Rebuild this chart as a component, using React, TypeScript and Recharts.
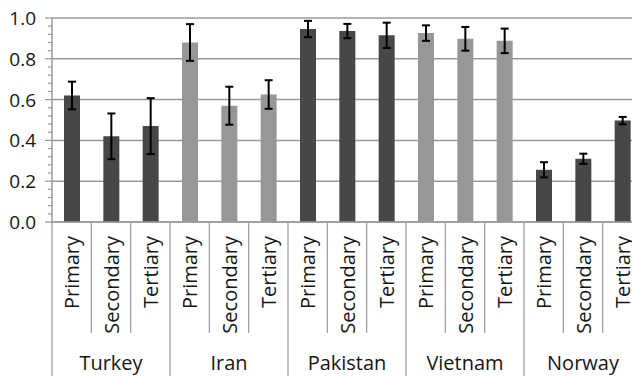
import React from 'react';
import { BarChart, Bar, XAxis, YAxis, CartesianGrid, ErrorBar, Cell } from 'recharts';

// Countries and education levels shown along the x axis
const countries = ['Turkey', 'Iran', 'Pakistan', 'Vietnam', 'Norway'];
const levels = ['Primary', 'Secondary', 'Tertiary'];

// Mean values per country (Primary, Secondary, Tertiary)
const turkeyValues = [0.62, 0.42, 0.47];
const iranValues = [0.88, 0.57, 0.625];
const pakistanValues = [0.946, 0.936, 0.915];
const vietnamValues = [0.926, 0.898, 0.888];
const norwayValues = [0.256, 0.31, 0.497];

// Error margins per country (Primary, Secondary, Tertiary)
const turkeyErrors = [0.068, 0.112, 0.137];
const iranErrors = [0.09, 0.093, 0.07];
const pakistanErrors = [0.04, 0.035, 0.062];
const vietnamErrors = [0.038, 0.058, 0.06];
const norwayErrors = [0.037, 0.025, 0.018];

// Y axis ticks: labelled majors and small minor marks
const majorTicks = [0, 0.2, 0.4, 0.6, 0.8, 1.0];
const allTicks = [
  0, 0.04, 0.08, 0.12, 0.16, 0.2, 0.24, 0.28, 0.32, 0.36, 0.4, 0.44, 0.48,
  0.52, 0.56, 0.6, 0.64, 0.68, 0.72, 0.76, 0.8, 0.84, 0.88, 0.92, 0.96, 1.0,
];

const DARK = '#474747';
const LIGHT = '#979797';
const countryColors = [DARK, LIGHT, DARK, LIGHT, DARK];

const valuesByCountry = [turkeyValues, iranValues, pakistanValues, vietnamValues, norwayValues];
const errorsByCountry = [turkeyErrors, iranErrors, pakistanErrors, vietnamErrors, norwayErrors];

const data = countries.flatMap((country, ci) =>
  levels.map((level, li) => ({
    key: `${country}-${level}`,
    country,
    level,
    value: valuesByCountry[ci][li],
    err: errorsByCountry[ci][li],
    color: countryColors[ci],
  }))
);

const CHART_W = 660;
const CHART_H = 376;
const MARGIN = { top: 18, right: 18, left: 0, bottom: 0 };
const Y_AXIS_W = 52;
const X_AXIS_H = 154;
const BAND = (CHART_W - MARGIN.left - MARGIN.right - Y_AXIS_W) / data.length;

const FONT = '"Open Sans", sans-serif';
const TEXT = '#151515';
const RULE = '#9a9a9a';

const isMajor = (v: number) => majorTicks.some((m) => Math.abs(m - v) < 1e-6);

const YTick = (props: any) => {
  const { x, y, payload } = props;
  const v = payload.value as number;
  const major = isMajor(v);
  return (
    <g>
      <line x1={x - (major ? 7 : 4)} x2={x} y1={y} y2={y} stroke={RULE} strokeWidth={1.2} />
      {major && (
        <text
          x={x - 16}
          y={y}
          textAnchor="end"
          dominantBaseline="central"
          fontFamily={FONT}
          fontSize={19}
          fill={TEXT}
        >
          {v.toFixed(1)}
        </text>
      )}
    </g>
  );
};

const XTick = (props: any) => {
  const { x, y, index } = props;
  const d = data[index];
  if (!d) return null;
  const left = x - BAND / 2;
  const groupStart = index % levels.length === 0;
  const groupMiddle = index % levels.length === 1;
  return (
    <g>
      <line
        x1={left}
        x2={left}
        y1={y}
        y2={groupStart ? CHART_H : y + 111}
        stroke={RULE}
        strokeWidth={1.2}
      />
      <text
        transform={`translate(${x}, ${y + 14}) rotate(-90)`}
        textAnchor="end"
        dominantBaseline="central"
        fontFamily={FONT}
        fontSize={20}
        fill={TEXT}
      >
        {d.level}
      </text>
      {groupMiddle && (
        <text
          x={x}
          y={y + 148}
          textAnchor="middle"
          fontFamily={FONT}
          fontSize={20}
          fill={TEXT}
        >
          {d.country}
        </text>
      )}
    </g>
  );
};

export default function App() {
  return (
    <div
      style={{
        position: 'absolute',
        left: 0,
        top: 0,
        width: 632,
        height: 376,
        overflow: 'hidden',
        background: '#fff',
      }}
    >
      <BarChart width={CHART_W} height={CHART_H} data={data} margin={MARGIN} barCategoryGap={0}>
        <CartesianGrid vertical={false} stroke={RULE} strokeWidth={1.5} horizontalValues={majorTicks} />
        <XAxis
          dataKey="key"
          interval={0}
          height={X_AXIS_H}
          tickLine={false}
          tickSize={0}
          tickMargin={0}
          axisLine={{ stroke: RULE, strokeWidth: 1.5 }}
          tick={<XTick />}
        />
        <YAxis
          domain={[0, 1]}
          ticks={allTicks}
          interval={0}
          width={Y_AXIS_W}
          tickLine={false}
          tickSize={0}
          tickMargin={0}
          axisLine={{ stroke: RULE, strokeWidth: 1.5 }}
          tick={<YTick />}
        />
        <Bar dataKey="value" barSize={16} isAnimationActive={false}>
          {data.map((d) => (
            <Cell key={d.key} fill={d.color} />
          ))}
          <ErrorBar dataKey="err" width={4} stroke="#000" strokeWidth={2} />
        </Bar>
      </BarChart>
    </div>
  );
}
